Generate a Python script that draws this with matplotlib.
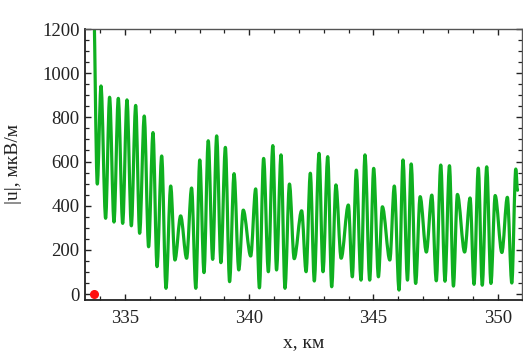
import matplotlib
matplotlib.use("Agg")
import matplotlib.pyplot as plt
from matplotlib.path import Path
from matplotlib.patches import PathPatch
from matplotlib.ticker import MultipleLocator

plt.rcParams['font.family'] = ['Liberation Serif', 'DejaVu Serif']

# distance along the profile, km, at the turning points of |u|
x_km = [333.72, 333.885, 334.034, 334.22, 334.38, 334.557, 334.73, 334.907,
        335.08, 335.255, 335.43, 335.59, 335.775, 335.95, 336.127, 336.29,
        336.477, 336.65, 336.84, 337.01, 337.24, 337.48, 337.68, 337.85,
        338.01, 338.18, 338.35, 338.53, 338.69, 338.86, 339.04, 339.21,
        339.39, 339.58, 339.76, 340.06, 340.26, 340.41, 340.58, 340.77,
        340.95, 341.10, 341.28, 341.44, 341.62, 341.81, 342.11, 342.29,
        342.46, 342.62, 342.81, 342.97, 343.16, 343.32, 343.49, 343.70,
        343.99, 344.15, 344.31, 344.50, 344.66, 344.85, 345.01, 345.20,
        345.36, 345.66, 345.84, 346.03, 346.19, 346.37, 346.52, 346.70,
        346.88, 347.13, 347.35, 347.53, 347.71, 347.88, 348.06, 348.22,
        348.38, 348.67, 348.89, 349.05, 349.22, 349.38, 349.56, 349.73,
        349.90, 350.17, 350.39, 350.57, 350.73, 350.80]

# field magnitude |u|, uV/m, at those points
u_abs = [1400, 498, 942, 343, 891, 326, 886, 320,
         879, 309, 854, 275, 806, 214, 731, 124,
         625, 26, 489, 154, 354, 162, 480, 26,
         607, 97, 694, 157, 716, 142, 664, 56,
         545, 109, 380, 172, 476, 28, 614, 101,
         672, 109, 630, 26, 498, 160, 377, 101,
         547, 59, 637, 101, 622, 33, 494, 162,
         403, 78, 561, 63, 630, 63, 569, 78,
         395, 154, 489, 18, 607, 63, 589, 48,
         441, 190, 448, 60, 584, 58, 581, 36,
         451, 190, 435, 44, 570, 40, 576, 48,
         446, 188, 438, 50, 566, 470]

# source location
src_x = [333.76]
src_u = [0]

x_ticks = [335, 340, 345, 350]
y_ticks = [0, 200, 400, 600, 800, 1000, 1200]

fig = plt.figure(figsize=(5.23, 3.53), dpi=100)
ax = fig.add_axes([85 / 523, 1 - 300 / 353, 437 / 523, 271 / 353])

# smooth curve through the turning points (flat tangent at each extremum)
verts = [(x_km[0], u_abs[0])]
codes = [Path.MOVETO]
for i in range(1, len(x_km)):
    x0, y0 = x_km[i - 1], u_abs[i - 1]
    x1, y1 = x_km[i], u_abs[i]
    dx = x1 - x0
    verts += [(x0 + dx / 3, y0), (x1 - dx / 3, y1), (x1, y1)]
    codes += [Path.CURVE4] * 3
curve = PathPatch(Path(verts, codes), fill=False, edgecolor='#0fb020',
                  linewidth=2.3, capstyle='round', joinstyle='round')
ax.add_patch(curve)

ax.plot(src_x, src_u, 'o', color='#ff1010', markersize=5.5, clip_on=False,
        zorder=5)

ax.set_xlim(333.39, 350.98)
ax.set_ylim(-27, 1200)
ax.set_xticks(x_ticks)
ax.set_yticks(y_ticks)
ax.xaxis.set_minor_locator(MultipleLocator(1))
ax.yaxis.set_minor_locator(MultipleLocator(50))

ax.tick_params(which='both', direction='in', top=True, right=True,
               labelsize=13.5, colors='#222222')
ax.tick_params(which='major', length=4.5, width=1.0)
ax.tick_params(which='minor', length=2.8, width=0.9)
ax.tick_params(axis='y', pad=4)
ax.tick_params(axis='x', pad=7)

for side in ['left', 'bottom']:
    ax.spines[side].set_color('#222222')
    ax.spines[side].set_linewidth(1.3)
for side in ['top', 'right']:
    ax.spines[side].set_color('#555555')
    ax.spines[side].set_linewidth(1.0)

ax.set_ylabel('|u|, мкВ/м', fontsize=14, color='#222222')
ax.yaxis.set_label_coords(-0.144, 0.5)
ax.set_xlabel('x, км', fontsize=14, color='#222222', va='top')
ax.xaxis.set_label_coords(0.5, -0.125)

fig.savefig('out.png', dpi=100)
